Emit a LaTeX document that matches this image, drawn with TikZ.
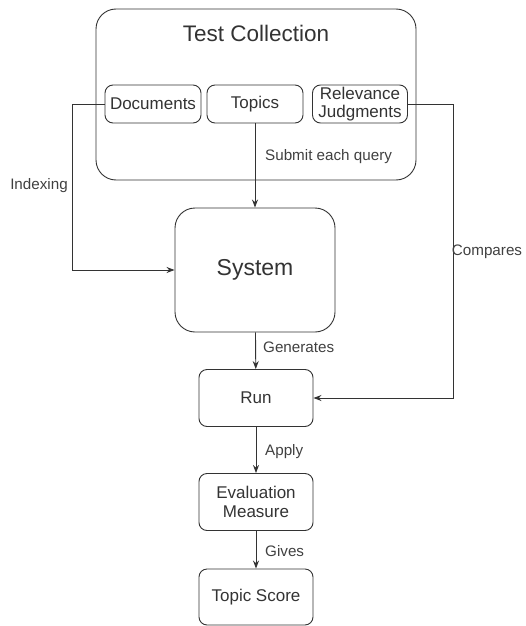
\documentclass[tikz,border=0pt]{standalone}
\usepackage{fontspec}
\setmainfont{Liberation Sans}
\usetikzlibrary{arrows.meta}
\begin{document}
\begin{tikzpicture}[x=1pt,y=-1pt,
	box/.style={draw=black!80,line width=0.9pt,rounded corners=8pt,align=center,inner sep=0pt,
		text=black!80,font=\fontsize{17}{18.5}\selectfont},
	lbl/.style={inner sep=0pt,text=black!75,font=\fontsize{15.2}{16}\selectfont},
	link/.style={->,draw=black!80,line width=0.9pt},
	>={Stealth[length=8pt,width=6pt]}]
	\useasboundingbox (0,0) rectangle (525,626);
	\node[box,rounded corners=20pt,minimum width=320pt,minimum height=171pt] (coll) at (256,94.5) {};
	\node[text=black!80,font=\fontsize{22.5}{24}\selectfont] (title) at (256,33) {Test Collection};
	\node[box,minimum width=96pt,minimum height=38pt] (docs) at (153,104) {Documents};
	\node[box,minimum width=96pt,minimum height=38pt] (topics) at (255,104) {Topics};
	\node[box,minimum width=95pt,minimum height=38pt] (rel) at (360,104) {Relevance\\Judgments};
	\node[box,rounded corners=20pt,minimum width=160pt,minimum height=124pt,
		font=\fontsize{23}{24}\selectfont] (sys) at (255,270) {System};
	\node[box,minimum width=114pt,minimum height=57pt] (run) at (256,398) {Run};
	\node[box,minimum width=114pt,minimum height=57pt] (eval) at (256,502) {Evaluation\\Measure};
	\node[box,minimum width=114pt,minimum height=56pt] (score) at (256,597) {Topic Score};
	\draw[link] (docs.west) -- ++(-32,0) |- (sys.west);
	\draw[link] (topics) -- (sys);
	\draw[link] (rel.east) -- ++(45,0) |- (run.east);
	\draw[link] (sys) -- (run);
	\draw[link] (run) -- (eval);
	\draw[link] (eval) -- (score);
	\node[lbl] (indexing) at (39,186) {Indexing};
	\node[lbl,anchor=west] (submit) at (265,157) {Submit each query};
	\node[lbl] (compares) at (487,252) {Compares};
	\node[lbl,anchor=west] (generates) at (263,347) {Generates};
	\node[lbl,anchor=west] (apply) at (265,452) {Apply};
	\node[lbl,anchor=west] (gives) at (265,551) {Gives};
\end{tikzpicture}
\end{document}
